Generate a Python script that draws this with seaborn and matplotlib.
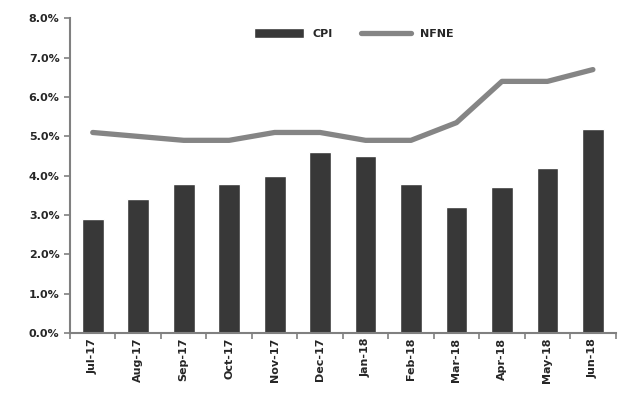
import numpy as np
import pandas as pd
import seaborn as sns
import matplotlib.pyplot as plt
from matplotlib.ticker import FuncFormatter, FixedLocator

# values
months = ["Jul-17", "Aug-17", "Sep-17", "Oct-17", "Nov-17", "Dec-17",
          "Jan-18", "Feb-18", "Mar-18", "Apr-18", "May-18", "Jun-18"]
cpi = [2.9, 3.4, 3.8, 3.8, 4.0, 4.6, 4.5, 3.8, 3.2, 3.7, 4.2, 5.2]
nfne = [5.1, 5.0, 4.9, 4.9, 5.1, 5.1, 4.9, 4.9, 5.35, 6.4, 6.4, 6.7]

data = pd.DataFrame({"month": months, "CPI": cpi, "NFNE": nfne})
data["pos"] = np.arange(len(months))

sns.set_style("white")
plt.rcParams['font.family'] = ['DejaVu Sans']

fig, ax = plt.subplots(figsize=(6.25, 4.11), dpi=100)
fig.subplots_adjust(left=0.112, right=0.985, top=0.955, bottom=0.19)

sns.barplot(x="pos", y="CPI", data=data, color="#383838", width=0.48,
            native_scale=True, ax=ax, label="CPI")
sns.lineplot(x="pos", y="NFNE", data=data, color="#858585", linewidth=3.8,
             ax=ax, label="NFNE")

ax.set_xlim(-0.5, len(months) - 0.5)
ax.set_ylim(0, 8)
ax.set_yticks(np.arange(0, 8.1, 1))
ax.yaxis.set_major_formatter(FuncFormatter(lambda v, p: "{:.1f}%".format(v)))
ax.set_xticks(data["pos"])
ax.set_xticklabels(months, rotation=90, fontsize=8, fontweight="bold")
ax.xaxis.set_minor_locator(FixedLocator(np.arange(-0.5, len(months), 1)))
for lab in ax.get_yticklabels():
    lab.set_fontsize(8)
    lab.set_fontweight("bold")
ax.set_xlabel("")
ax.set_ylabel("")

sns.despine(ax=ax)
for s in ["left", "bottom"]:
    ax.spines[s].set_color("#808080")
    ax.spines[s].set_linewidth(1.5)
ax.tick_params(axis="y", which="major", length=4, color="#808080", width=1.2, left=True)
ax.tick_params(axis="x", which="major", length=0)
ax.tick_params(axis="x", which="minor", length=4, color="#808080", width=1.2, bottom=True)

# CPI first in the legend, as in the reference
handles, labels = ax.get_legend_handles_labels()
order = [labels.index("CPI"), labels.index("NFNE")]
leg = ax.legend([handles[i] for i in order], [labels[i] for i in order],
                loc="upper center", bbox_to_anchor=(0.52, 1.0), ncol=2, frameon=False,
                prop={"size": 8, "weight": "bold"}, handlelength=4.5, handleheight=0.9,
                columnspacing=2.5)

plt.savefig("out.png", dpi=100)
